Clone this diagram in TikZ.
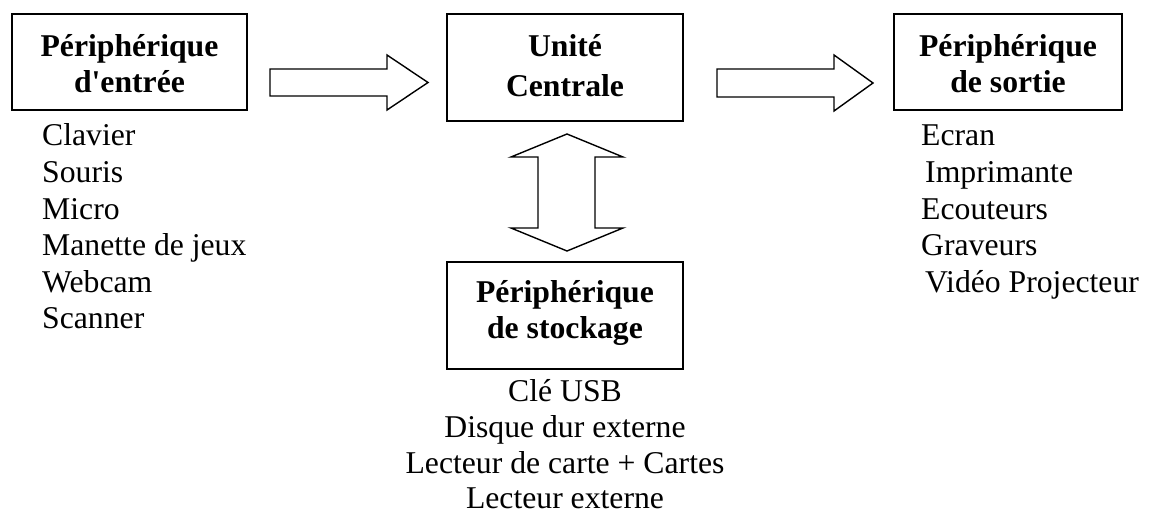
\documentclass[tikz,border=0pt]{standalone}
\usepackage{fontspec}
\setmainfont{Liberation Serif}
\begin{document}
\begin{tikzpicture}[x=1pt,y=-1pt,
  boxst/.style={draw,line width=2.2pt,inner sep=0pt},
  blockarrow/.style={draw,line width=1.4pt,line join=miter,fill=white},
  title/.style={font=\fontsize{31.7}{36.5}\selectfont\bfseries,anchor=base,inner sep=0pt},
  item/.style={font=\fontsize{31.7}{36.5}\selectfont,anchor=base west,inner sep=0pt},
  itemc/.style={font=\fontsize{31.7}{36.5}\selectfont,anchor=base,inner sep=0pt,text depth=0pt}]
\useasboundingbox (0,0) rectangle (1149,516);
% boxes
\draw[boxst] (12,14) rectangle (247,110);
\node[minimum width=235pt,minimum height=96pt] (in) at (129.5,62) {};
\draw[boxst] (447,14) rectangle (683,121);
\node[minimum width=236pt,minimum height=107pt] (uc) at (565,67.5) {};
\draw[boxst] (894,14) rectangle (1122,110);
\node[minimum width=228pt,minimum height=96pt] (out) at (1008,62) {};
\draw[boxst] (447,262) rectangle (683,369);
\node[minimum width=236pt,minimum height=107pt] (sto) at (565,315.5) {};
% titles
\node[title] (t1a) at (129.5,57) {Périphérique};
\node[title] (t1b) at (129.5,93) {d\textquotesingle entrée};
\node[title] (t2a) at (565,57) {Unité};
\node[title] (t2b) at (565,97) {Centrale};
\node[title] (t3a) at (1008,57) {Périphérique};
\node[title] (t3b) at (1008,93) {de sortie};
\node[title] (t4a) at (565,302) {Périphérique};
\node[title] (t4b) at (565,338) {de stockage};
% arrows
\draw[blockarrow] (270,69) -- (387,69) -- (387,55) -- (428,82.5) -- (387,110) -- (387,96) -- (270,96) -- cycle;
\draw[blockarrow] (717,69) -- (834,69) -- (834,55) -- (873,83) -- (834,111) -- (834,97) -- (717,97) -- cycle;
\draw[blockarrow] (567,134) -- (623,157) -- (595,157) -- (595,228) -- (623,228) -- (567,251) -- (511,228) -- (538,228) -- (538,157) -- (511,157) -- cycle;
% lists
\node[item] (l1) at (42,146) {Clavier};
\node[item] (l2) at (42,182.5) {Souris};
\node[item] (l3) at (42,219) {Micro};
\node[item] (l4) at (42,255.5) {Manette de jeux};
\node[item] (l5) at (42,292) {Webcam};
\node[item] (l6) at (42,328.5) {Scanner};
\node[item] (r1) at (921,146) {Ecran};
\node[item] (r2) at (925,182.5) {Imprimante};
\node[item] (r3) at (921,219) {Ecouteurs};
\node[item] (r4) at (921,255.5) {Graveurs};
\node[item] (r5) at (925,292) {Vidéo Projecteur};
\node[itemc] (b1) at (565,401) {Clé USB};
\node[itemc] (b2) at (565,437) {Disque dur externe};
\node[itemc] (b3) at (565,473) {Lecteur de carte + Cartes};
\node[itemc] (b4) at (565,508.5) {Lecteur externe};
\end{tikzpicture}
\end{document}
